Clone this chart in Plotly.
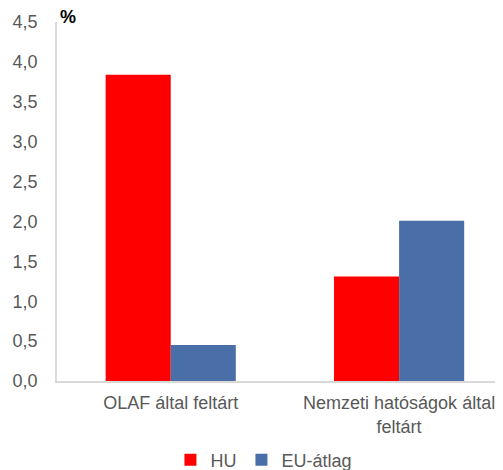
import plotly.graph_objects as go

categories = ["OLAF által feltárt", "Nemzeti hatóságok által<br>feltárt"]
hu_values = [3.84, 1.31]
eu_values = [0.45, 2.01]
series_names = ["HU", "EU-átlag"]
y_ticks = [0, 0.5, 1.0, 1.5, 2.0, 2.5, 3.0, 3.5, 4.0, 4.5]

font_family = "Liberation Sans, Arial, sans-serif"
grey = "#595959"

fig = go.Figure()
fig.add_trace(go.Bar(x=categories, y=hu_values, name=series_names[0],
                     marker=dict(color="#FF0000", line=dict(width=0))))
fig.add_trace(go.Bar(x=categories, y=eu_values, name=series_names[1],
                     marker=dict(color="#4A6EA7", line=dict(width=0))))

# the page body adds an 8px offset, so the figure is sized to fit the 503x470 window
fig.update_layout(
    width=495, height=462,
    margin=dict(l=49, r=0, t=14, b=89, autoexpand=False),
    paper_bgcolor="white", plot_bgcolor="white",
    barmode="group", bargap=0.43, bargroupgap=0,
    separators=", ",
    font=dict(family=font_family, size=18, color=grey),
    showlegend=True,
    legend=dict(orientation="h", x=0.464, xanchor="center", y=-0.22, yanchor="middle",
                font=dict(size=18, color=grey), itemwidth=30, traceorder="normal"),
    xaxis=dict(range=[-0.498, 1.455], showline=True, linecolor="#d9d9d9", linewidth=1.5,
               ticks="", showgrid=False, tickfont=dict(size=18, color=grey),
               ticklabelstandoff=5, fixedrange=True, automargin=False),
    yaxis=dict(range=[0, 4.5], tickvals=y_ticks, tickformat=".1f", showline=True,
               linecolor="#d9d9d9", linewidth=1.5, ticks="", showgrid=False,
               zeroline=False, tickfont=dict(size=18, color=grey),
               ticklabelstandoff=14, fixedrange=True, automargin=False),
    annotations=[dict(text="<b>%</b>", xref="paper", yref="paper", x=0.0, y=1.0,
                      xanchor="left", yanchor="bottom", xshift=1, yshift=-7, showarrow=False,
                      font=dict(size=18, color="#000000", family=font_family))],
)

fig.write_html("out.html")
